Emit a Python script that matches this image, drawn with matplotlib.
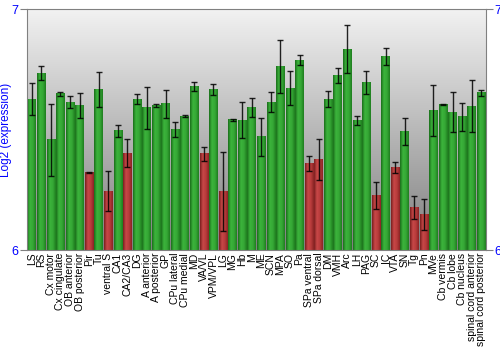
import numpy as np
import matplotlib
matplotlib.use('Agg')
import matplotlib.pyplot as plt
from matplotlib.colors import LinearSegmentedColormap

plt.rcParams['font.family'] = ['Liberation Sans', 'DejaVu Sans']

# region names, mean log2 expression and error (half range)
regions = ['LS', 'RS', 'Cx motor', 'Cx cingulate', 'OB anterior', 'OB posterior', 'Pir', 'Tu',
           'ventral S', 'CA1', 'CA2/CA3', 'DG', 'A anterior', 'A posterior', 'GP', 'CPu lateral',
           'CPu medial', 'MD', 'VA/VL', 'VPM/VPL', 'LG', 'MG', 'Hb', 'M', 'ME', 'SCN', 'MPA', 'SO',
           'Pa', 'SPa ventral', 'SPa dorsal', 'DM', 'VMH', 'Arc', 'LH', 'PAG', 'SC', 'IC', 'VTA',
           'SN', 'Tg', 'Pn', 'MVe', 'Cb vermis', 'Cb lobe', 'Cb nucleus',
           'spinal cord anterior', 'spinal cord posterior']
expression = [6.627, 6.735, 6.457, 6.648, 6.614, 6.601, 6.323, 6.666,
              6.245, 6.496, 6.402, 6.626, 6.590, 6.601, 6.607, 6.500,
              6.555, 6.680, 6.399, 6.666, 6.241, 6.540, 6.539, 6.593, 6.470, 6.614, 6.762, 6.672,
              6.788, 6.361, 6.375, 6.627, 6.723, 6.834, 6.539, 6.697, 6.226, 6.802, 6.341,
              6.493, 6.177, 6.148, 6.580, 6.604, 6.572, 6.553,
              6.598, 6.652]
errors = [0.065, 0.030, 0.151, 0.007, 0.025, 0.052, 0.002, 0.072,
          0.085, 0.025, 0.057, 0.021, 0.088, 0.006, 0.059, 0.032,
          0.004, 0.018, 0.028, 0.022, 0.164, 0.003, 0.074, 0.040, 0.079, 0.041, 0.109, 0.070,
          0.021, 0.031, 0.086, 0.035, 0.031, 0.100, 0.019, 0.048, 0.057, 0.035, 0.023,
          0.056, 0.047, 0.063, 0.107, 0.003, 0.083, 0.059,
          0.109, 0.012]
low_cutoff = 6.41   # bars below this drawn in red

fig = plt.figure(figsize=(5, 3.5), dpi=100)
ax = fig.add_axes([0.054, 0.2857, 0.918, 0.688])

x = np.arange(len(regions))
ymin, ymax = 6, 7

# grey background gradient
bg = LinearSegmentedColormap.from_list('bg', ['#7f7f7f', '#f2f2f2'])
ax.imshow(np.linspace(0, 1, 256).reshape(-1, 1), cmap=bg, origin='lower', aspect='auto',
          extent=[0, 1, 0, 1], transform=ax.transAxes, zorder=0)

green = LinearSegmentedColormap.from_list('g', ['#1a6e1a', '#3cb43c', '#35a835', '#1f7d1f'])
red = LinearSegmentedColormap.from_list('r', ['#7a1e1e', '#c84848', '#b83c3c', '#8a2424'])

vals = np.array(expression)
bars = ax.bar(x, vals - ymin, bottom=ymin, width=0.9, color='none', zorder=2)
grad = np.linspace(0, 1, 64).reshape(1, -1)
for b, v in zip(bars, vals):
    cm = red if v < low_cutoff else green
    ax.imshow(grad, cmap=cm, aspect='auto', zorder=2,
              extent=[b.get_x(), b.get_x() + b.get_width(), ymin, ymin + b.get_height()])

ax.errorbar(x, vals, yerr=errors, fmt='none', ecolor='black', elinewidth=1,
            capsize=2, capthick=1, alpha=0.85, zorder=3)

ax.set_xlim(-0.5, len(regions) - 0.5)
ax.set_ylim(ymin, ymax)
ax.set_xticks(x)
ax.set_xticklabels(regions, rotation=90, fontsize=7.5)
ax.tick_params(axis='x', length=0, pad=2)
ax.set_yticks([6, 7])
ax.tick_params(axis='y', colors='#808080', labelcolor='blue', labelsize=9,
               length=5, right=True, labelright=True, pad=1)
ax.set_ylabel('Log2 (expression)', color='blue', fontsize=8.5)
ax.yaxis.set_label_coords(-0.032, 0.5)
for s in ax.spines.values():
    s.set_color('#808080')

fig.savefig('out.png', dpi=100)
